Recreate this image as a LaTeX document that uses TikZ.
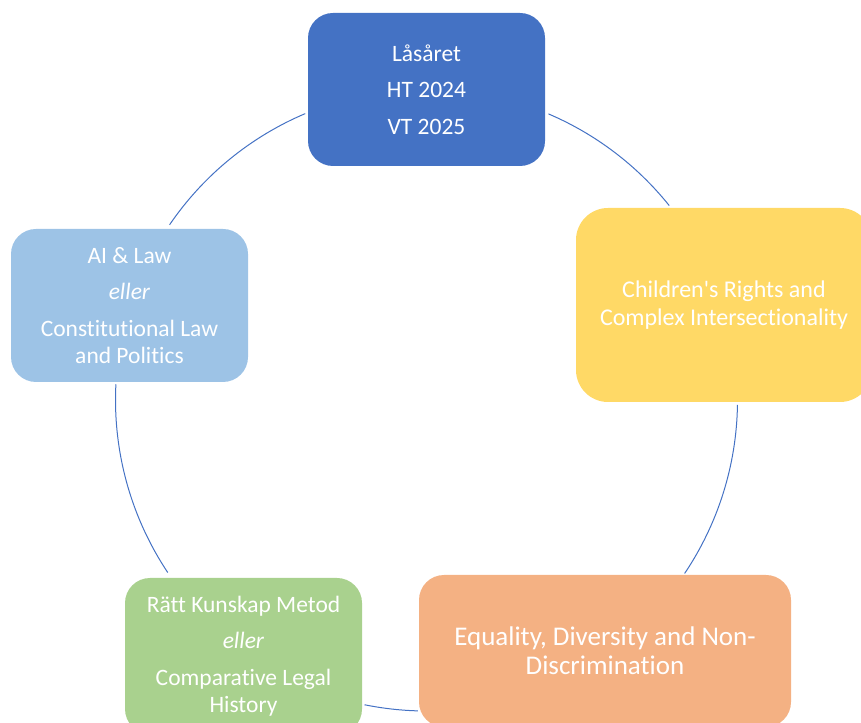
\documentclass[tikz,border=0pt]{standalone}
\usepackage{fontspec}
\newfontfamily\cf{Carlito}[Ligatures=NoCommon]
\definecolor{cblue}{HTML}{4472C4}
\definecolor{cyellow}{HTML}{FFD966}
\definecolor{corange}{HTML}{F4B183}
\definecolor{cgreen}{HTML}{A9D18E}
\definecolor{clight}{HTML}{9DC3E6}
\tikzset{
  boxnode/.style={rounded corners=#1, inner sep=0pt, align=center, text=white,
    font=\cf\fontsize{23.5}{27.5}\selectfont},
  arcline/.style={draw=cblue, line width=1pt}
}
\begin{document}
\begin{tikzpicture}[x=1pt,y=1pt]
\useasboundingbox (0,0) rectangle (861,722);
\clip (0,0) rectangle (861,722);
\coordinate (c) at (426.5,322);
% arcs
\draw[arcline] (c) ++(112.95:311) arc[start angle=112.95, end angle=145.7, radius=311];
\draw[arcline] (c) ++(66.9:311) arc[start angle=66.9, end angle=38.7, radius=311];
\draw[arcline] (c) ++(-0.9:311) arc[start angle=-0.9, end angle=-33.9, radius=311];
\draw[arcline] (c) ++(-91.6:311) arc[start angle=-91.6, end angle=-101.5, radius=311];
\draw[arcline] (c) ++(213.7:311) arc[start angle=213.7, end angle=177.1, radius=311];
% boxes
\node[boxnode=25pt, fill=cblue, minimum width=237pt, minimum height=153pt] (top) at (426.5,632.5)
  {Låsåret\\[9pt]HT 2024\\[9pt]VT 2025};
\node[boxnode=32pt, fill=cyellow, minimum width=296pt, minimum height=194pt,
  font=\cf\fontsize{24}{27.5}\selectfont] (right) at (724,417)
  {Children's Rights and\\Complex Intersectionality};
\node[boxnode=25pt, fill=corange, minimum width=372pt, minimum height=152pt,
  font=\cf\fontsize{27}{29}\selectfont] (botr) at (605,71)
  {Equality, Diversity and Non-\\Discrimination};
\node[boxnode=25pt, fill=cgreen, minimum width=237pt, minimum height=156pt] (botl) at (243.5,66)
  {Rätt Kunskap Metod\\[9pt]\textit{eller}\\[9pt]Comparative Legal\\History};
\node[boxnode=25pt, fill=clight, minimum width=237pt, minimum height=153pt] (left) at (129.5,416.5)
  {AI \& Law\\[9pt]\textit{eller}\\[9pt]Constitutional Law\\and Politics};
\end{tikzpicture}
\end{document}
